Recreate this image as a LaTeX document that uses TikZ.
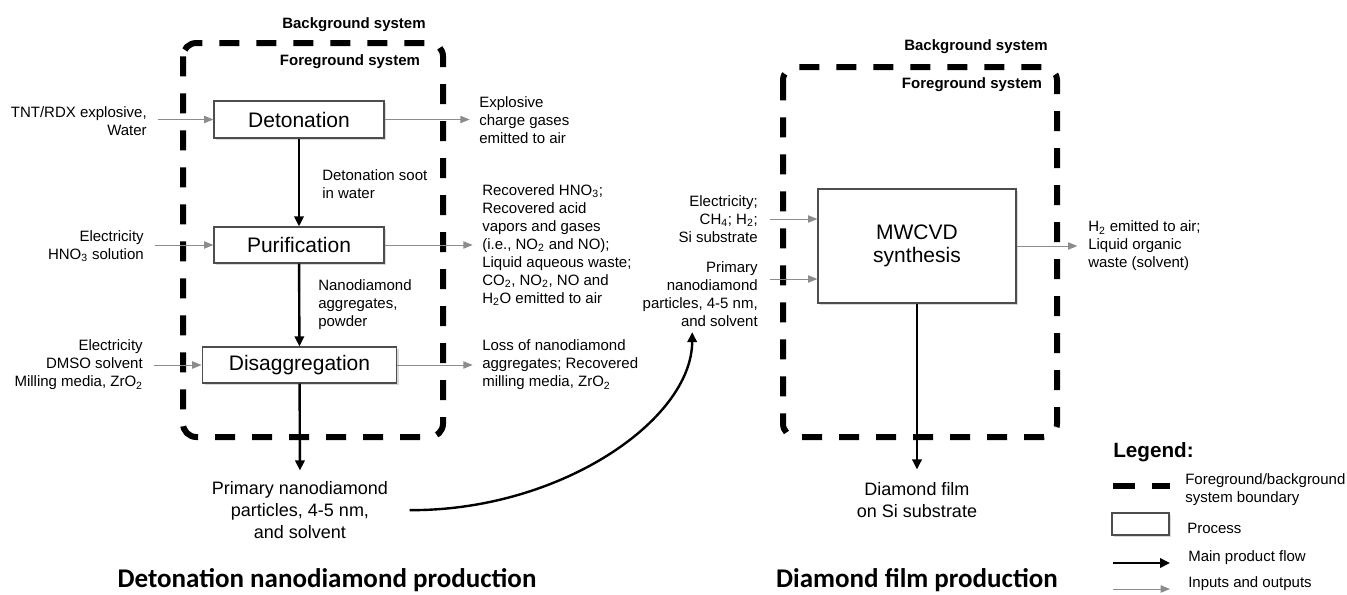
\documentclass[tikz,border=0pt]{standalone}
\usepackage{fontspec}
\setmainfont{Liberation Sans}
\newfontfamily\titlefont{Carlito}
\usetikzlibrary{arrows.meta,shadows}
\definecolor{flowgray}{HTML}{8C8C8C}
\definecolor{boxgray}{HTML}{4D4D4D}

\begin{document}
\begin{tikzpicture}[
		x=0.75pt,
		y=-0.75pt,
		every node/.style={font=\fontsize{11.25}{13.5}\selectfont, inner sep=0pt},
		boundary/.style={line width=4.5pt, dash pattern=on 15pt off 12.75pt, rounded corners=10pt},
		process/.style={draw=boxgray, line width=0.9pt, fill=white, align=center,
			drop shadow={shadow xshift=1.8pt, shadow yshift=-1.8pt, opacity=0.3},
			font=\fontsize{15.75}{17.25}\selectfont},
		mainflow/.style={-{Triangle[length=7.5pt,width=7pt]}, line width=1.8pt},
		ioflow/.style={-{Triangle[length=7pt,width=5.5pt]}, flowgray, line width=0.75pt},
		syslabel/.style={font=\fontsize{11.25}{13.5}\selectfont\bfseries},
		inlabel/.style={anchor=east, align=right},
		outlabel/.style={anchor=west, align=left},
		product/.style={align=center, font=\fontsize{13.5}{16.5}\selectfont},
		headline/.style={font=\titlefont\bfseries\fontsize{20.25}{24}\selectfont}
	]
	\useasboundingbox (0,0) rectangle (1347,594);

	% system boundaries
	\draw[boundary] (183,43) rectangle (443,437);
	\draw[boundary] (783,67) rectangle (1057,437);
	\node[syslabel] (bgleft) at (354,25) {Background system};
	\node[syslabel] (fgleft) at (350,62) {Foreground system};
	\node[syslabel] (bgright) at (976,47) {Background system};
	\node[syslabel] (fgright) at (972,85) {Foreground system};

	% processes
	\node[process, minimum width=127.5pt, minimum height=27.75pt] (det) at (299,119.5) {Detonation};
	\node[process, minimum width=127.5pt, minimum height=27pt] (pur) at (299,245) {Purification};
	\node[process, minimum width=146pt, minimum height=27pt] (dis) at (299.5,365) {Disaggregation};
	\node[process, minimum width=148.5pt, minimum height=85.5pt] (mw) at (917,246) {MWCVD\\synthesis};

	% inputs
	\node[inlabel] (tnt) at (147,121) {TNT/RDX explosive,\\Water};
	\node[inlabel] (hno) at (144,246) {Electricity\\HNO\textsubscript{3} solution};
	\node[inlabel] (dmso) at (143,365) {Electricity\\DMSO solvent\\Milling media, ZrO\textsubscript{2}};
	\foreach \src/\dst in {tnt/det, hno/pur, dmso/dis}
		\draw[ioflow, shorten <=8pt] (\src.east |- \dst.west) -- (\dst.west);

	% outputs
	\node[outlabel] (gas) at (479,120) {Explosive\\charge gases\\emitted to air};
	\node[outlabel] (acid) at (482,245) {Recovered HNO\textsubscript{3};\\Recovered acid\\vapors and gases\\(i.e., NO\textsubscript{2} and NO);\\Liquid aqueous waste;\\CO\textsubscript{2}, NO\textsubscript{2}, NO and\\H\textsubscript{2}O emitted to air};
	\node[outlabel] (loss) at (482,365) {Loss of nanodiamond\\aggregates; Recovered\\milling media, ZrO\textsubscript{2}};
	\foreach \src/\dst in {det/gas, pur/acid, dis/loss}
		\draw[ioflow, shorten >=7pt] (\src.east) -- (\src.east -| \dst.west);

	% main product flow
	\node[outlabel] (soot) at (322,184) {Detonation soot\\in water};
	\node[outlabel] (aggr) at (318,305) {Nanodiamond\\aggregates,\\powder};
	\node[product] (prim) at (300,510) {Primary nanodiamond\\particles, 4-5 nm,\\and solvent};
	\draw[mainflow] (det) -- (pur);
	\draw[mainflow] (pur) -- (dis);
	\draw[mainflow, shorten >=8pt] (dis) -- (prim.north);

	% film production
	\node[inlabel] (elec) at (758,219) {Electricity;\\CH\textsubscript{4}; H\textsubscript{2};\\Si substrate};
	\node[inlabel] (ndin) at (758,294) {Primary\\nanodiamond\\particles, 4-5 nm,\\and solvent};
	\draw[ioflow, shorten <=9pt] (elec.east) -- (elec.east -| mw.west);
	\draw[ioflow, shorten <=9pt] ([yshift=11.25pt]ndin.east) -- ([yshift=11.25pt]ndin.east -| mw.west);
	\node[outlabel] (htwo) at (1088,246) {H\textsubscript{2} emitted to air;\\Liquid organic\\waste (solvent)};
	\draw[ioflow, shorten >=8pt] (mw.east) -- (mw.east -| htwo.west);
	\node[product] (film) at (917,500) {Diamond film\\on Si substrate};
	\draw[mainflow, shorten >=9.5pt] (mw) -- (film.north);

	\draw[mainflow, shorten <=16pt, shorten >=4pt]
		(prim.east) .. controls (560,511) and (692,420) .. ([xshift=-6pt]ndin.south);

	% titles
	\node[headline] (lefttitle) at (327,580) {Detonation nanodiamond production};
	\node[headline] (righttitle) at (917,580) {Diamond film production};

	% legend
	\node[anchor=west, font=\bfseries\fontsize{15.5}{18}\selectfont] (legend) at (1113,452) {Legend:};
	\draw[line width=4.5pt, dash pattern=on 16.5pt off 12.75pt] (1113,486) -- (1170,486);
	\node[outlabel] (legdash) at (1185,490) {Foreground/background\\system boundary};
	\node[process, minimum width=42.75pt, minimum height=16.5pt] (legbox) at (1140.5,524) {};
	\node[outlabel] (legproc) at (1187,528) {Process};
	\draw[mainflow] (1113,563) -- (1170,563);
	\node[outlabel] (legmain) at (1188,558) {Main product flow};
	\draw[ioflow] (1113,589) -- (1170,589);
	\node[outlabel] (legio) at (1188,584) {Inputs and outputs};
\end{tikzpicture}
\end{document}
